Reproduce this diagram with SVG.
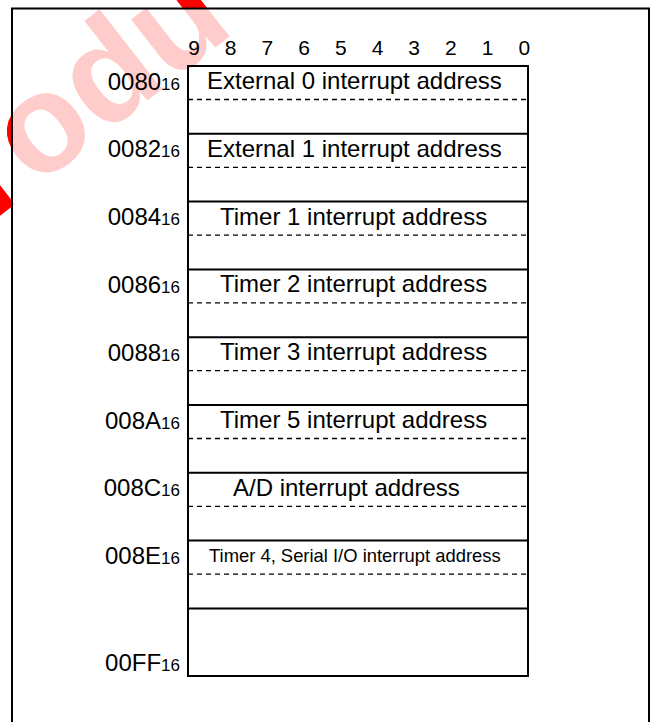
<svg xmlns="http://www.w3.org/2000/svg" width="655" height="722" viewBox="0 0 655 722">
<style>
text{font-family:"Liberation Sans",Arial,sans-serif;fill:#000}
.lab{font-size:24px;text-anchor:end}
.sub{font-size:17px}
.bit{font-size:21px;text-anchor:middle}
.cell{font-size:24px}
.solid{stroke:#000;stroke-width:2;fill:none}
.dash{stroke:#000;stroke-width:1.3;stroke-dasharray:5 4;fill:none}
.wm{font-family:"Liberation Sans",Arial,sans-serif;font-weight:bold;font-size:140px;fill:#ff0000}
</style>
<rect width="655" height="722" fill="#fff"/>
<g id="watermark"><text class="wm" transform="translate(-8,222) rotate(-38)">rodu</text></g>
<rect x="12" y="8.5" width="637" height="720" fill="#fff" fill-opacity="0.8"/>
<g id="frame"><path class="solid" d="M12,730 V8.5 H649 V730"/></g>
<g id="bits">
<text class="bit" x="194" y="55">9</text>
<text class="bit" x="230.7" y="55">8</text>
<text class="bit" x="267.4" y="55">7</text>
<text class="bit" x="304.1" y="55">6</text>
<text class="bit" x="340.8" y="55">5</text>
<text class="bit" x="377.5" y="55">4</text>
<text class="bit" x="414.2" y="55">3</text>
<text class="bit" x="450.9" y="55">2</text>
<text class="bit" x="487.6" y="55">1</text>
<text class="bit" x="524.3" y="55">0</text>
</g>
<g id="table">
<rect class="solid" x="188" y="66" width="340" height="610"/>
<path class="solid" d="M188,133.8H528M188,201.6H528M188,269.4H528M188,337.2H528M188,405H528M188,472.8H528M188,540.6H528M188,608.4H528"/>
<path class="dash" d="M188,99.5H528M188,167.3H528M188,235.1H528M188,302.9H528M188,370.7H528M188,438.5H528M188,506.3H528M188,574.1H528"/>
</g>
<g id="cells">
<text class="cell" x="207" y="89">External 0 interrupt address</text>
<text class="cell" x="207" y="156.8">External 1 interrupt address</text>
<text class="cell" x="220" y="224.6">Timer 1 interrupt address</text>
<text class="cell" x="220" y="292.4">Timer 2 interrupt address</text>
<text class="cell" x="220" y="360.2">Timer 3 interrupt address</text>
<text class="cell" x="220" y="428">Timer 5 interrupt address</text>
<text class="cell" x="233" y="495.8">A/D interrupt address</text>
<text x="209" y="562" style="font-size:18.4px">Timer 4, Serial I/O interrupt address</text>
</g>
<g id="addresses">
<text class="lab" x="180" y="89.5">0080<tspan class="sub">16</tspan></text>
<text class="lab" x="180" y="157.3">0082<tspan class="sub">16</tspan></text>
<text class="lab" x="180" y="225.1">0084<tspan class="sub">16</tspan></text>
<text class="lab" x="180" y="292.9">0086<tspan class="sub">16</tspan></text>
<text class="lab" x="180" y="360.7">0088<tspan class="sub">16</tspan></text>
<text class="lab" x="180" y="428.5">008A<tspan class="sub">16</tspan></text>
<text class="lab" x="180" y="496.3">008C<tspan class="sub">16</tspan></text>
<text class="lab" x="180" y="564.1">008E<tspan class="sub">16</tspan></text>
<text class="lab" x="180" y="671">00FF<tspan class="sub">16</tspan></text>
</g>
</svg>
